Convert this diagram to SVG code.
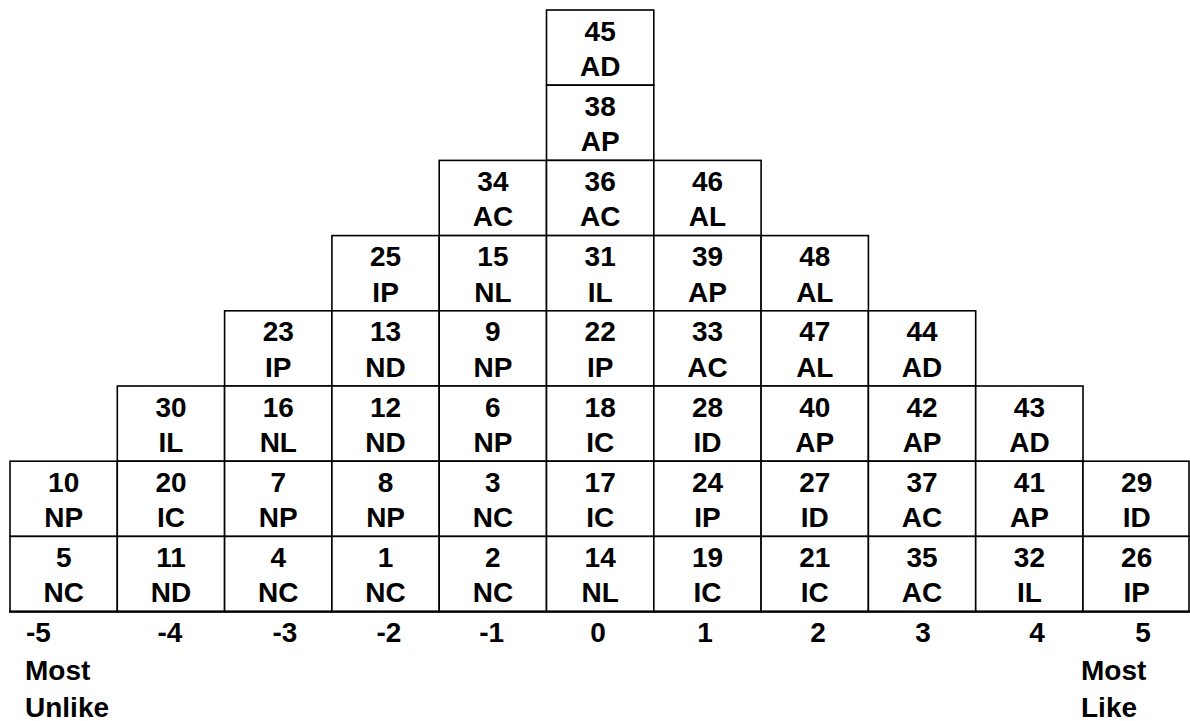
<svg xmlns="http://www.w3.org/2000/svg" width="1190" height="721" viewBox="0 0 1190 721">
<style>
rect.c{fill:#fff;stroke:#000;stroke-width:1.6}
text{font-family:"Liberation Sans",Arial,sans-serif;font-size:28px;font-weight:bold;fill:#000}
.m{text-anchor:middle}
</style>
<rect width="1190" height="721" fill="#fff"/>
<g id="cells">
<g id="c45"><rect class="c" x="546.5" y="10" width="107.3" height="75.2"/><text class="m" x="600.2" y="40.5">45</text><text class="m" x="600.2" y="76">AD</text></g>
<g id="c38"><rect class="c" x="546.5" y="85.2" width="107.3" height="75.2"/><text class="m" x="600.2" y="115.7">38</text><text class="m" x="600.2" y="151.2">AP</text></g>
<g id="c34"><rect class="c" x="439.2" y="160.4" width="107.3" height="75.2"/><text class="m" x="492.9" y="190.9">34</text><text class="m" x="492.9" y="226.4">AC</text></g>
<g id="c36"><rect class="c" x="546.5" y="160.4" width="107.3" height="75.2"/><text class="m" x="600.2" y="190.9">36</text><text class="m" x="600.2" y="226.4">AC</text></g>
<g id="c46"><rect class="c" x="653.8" y="160.4" width="107.3" height="75.2"/><text class="m" x="707.5" y="190.9">46</text><text class="m" x="707.5" y="226.4">AL</text></g>
<g id="c25"><rect class="c" x="331.9" y="235.6" width="107.3" height="75.2"/><text class="m" x="385.6" y="266.1">25</text><text class="m" x="385.6" y="301.6">IP</text></g>
<g id="c15"><rect class="c" x="439.2" y="235.6" width="107.3" height="75.2"/><text class="m" x="492.9" y="266.1">15</text><text class="m" x="492.9" y="301.6">NL</text></g>
<g id="c31"><rect class="c" x="546.5" y="235.6" width="107.3" height="75.2"/><text class="m" x="600.2" y="266.1">31</text><text class="m" x="600.2" y="301.6">IL</text></g>
<g id="c39"><rect class="c" x="653.8" y="235.6" width="107.3" height="75.2"/><text class="m" x="707.5" y="266.1">39</text><text class="m" x="707.5" y="301.6">AP</text></g>
<g id="c48"><rect class="c" x="761.1" y="235.6" width="107.3" height="75.2"/><text class="m" x="814.8" y="266.1">48</text><text class="m" x="814.8" y="301.6">AL</text></g>
<g id="c23"><rect class="c" x="224.6" y="310.8" width="107.3" height="75.2"/><text class="m" x="278.3" y="341.3">23</text><text class="m" x="278.3" y="376.8">IP</text></g>
<g id="c13"><rect class="c" x="331.9" y="310.8" width="107.3" height="75.2"/><text class="m" x="385.6" y="341.3">13</text><text class="m" x="385.6" y="376.8">ND</text></g>
<g id="c9"><rect class="c" x="439.2" y="310.8" width="107.3" height="75.2"/><text class="m" x="492.9" y="341.3">9</text><text class="m" x="492.9" y="376.8">NP</text></g>
<g id="c22"><rect class="c" x="546.5" y="310.8" width="107.3" height="75.2"/><text class="m" x="600.2" y="341.3">22</text><text class="m" x="600.2" y="376.8">IP</text></g>
<g id="c33"><rect class="c" x="653.8" y="310.8" width="107.3" height="75.2"/><text class="m" x="707.5" y="341.3">33</text><text class="m" x="707.5" y="376.8">AC</text></g>
<g id="c47"><rect class="c" x="761.1" y="310.8" width="107.3" height="75.2"/><text class="m" x="814.8" y="341.3">47</text><text class="m" x="814.8" y="376.8">AL</text></g>
<g id="c44"><rect class="c" x="868.4" y="310.8" width="107.3" height="75.2"/><text class="m" x="922.1" y="341.3">44</text><text class="m" x="922.1" y="376.8">AD</text></g>
<g id="c30"><rect class="c" x="117.3" y="386" width="107.3" height="75.2"/><text class="m" x="171" y="416.5">30</text><text class="m" x="171" y="452">IL</text></g>
<g id="c16"><rect class="c" x="224.6" y="386" width="107.3" height="75.2"/><text class="m" x="278.3" y="416.5">16</text><text class="m" x="278.3" y="452">NL</text></g>
<g id="c12"><rect class="c" x="331.9" y="386" width="107.3" height="75.2"/><text class="m" x="385.6" y="416.5">12</text><text class="m" x="385.6" y="452">ND</text></g>
<g id="c6"><rect class="c" x="439.2" y="386" width="107.3" height="75.2"/><text class="m" x="492.9" y="416.5">6</text><text class="m" x="492.9" y="452">NP</text></g>
<g id="c18"><rect class="c" x="546.5" y="386" width="107.3" height="75.2"/><text class="m" x="600.2" y="416.5">18</text><text class="m" x="600.2" y="452">IC</text></g>
<g id="c28"><rect class="c" x="653.8" y="386" width="107.3" height="75.2"/><text class="m" x="707.5" y="416.5">28</text><text class="m" x="707.5" y="452">ID</text></g>
<g id="c40"><rect class="c" x="761.1" y="386" width="107.3" height="75.2"/><text class="m" x="814.8" y="416.5">40</text><text class="m" x="814.8" y="452">AP</text></g>
<g id="c42"><rect class="c" x="868.4" y="386" width="107.3" height="75.2"/><text class="m" x="922.1" y="416.5">42</text><text class="m" x="922.1" y="452">AP</text></g>
<g id="c43"><rect class="c" x="975.7" y="386" width="107.3" height="75.2"/><text class="m" x="1029.4" y="416.5">43</text><text class="m" x="1029.4" y="452">AD</text></g>
<g id="c10"><rect class="c" x="10" y="461.2" width="107.3" height="75.2"/><text class="m" x="63.7" y="491.7">10</text><text class="m" x="63.7" y="527.2">NP</text></g>
<g id="c20"><rect class="c" x="117.3" y="461.2" width="107.3" height="75.2"/><text class="m" x="171" y="491.7">20</text><text class="m" x="171" y="527.2">IC</text></g>
<g id="c7"><rect class="c" x="224.6" y="461.2" width="107.3" height="75.2"/><text class="m" x="278.3" y="491.7">7</text><text class="m" x="278.3" y="527.2">NP</text></g>
<g id="c8"><rect class="c" x="331.9" y="461.2" width="107.3" height="75.2"/><text class="m" x="385.6" y="491.7">8</text><text class="m" x="385.6" y="527.2">NP</text></g>
<g id="c3"><rect class="c" x="439.2" y="461.2" width="107.3" height="75.2"/><text class="m" x="492.9" y="491.7">3</text><text class="m" x="492.9" y="527.2">NC</text></g>
<g id="c17"><rect class="c" x="546.5" y="461.2" width="107.3" height="75.2"/><text class="m" x="600.2" y="491.7">17</text><text class="m" x="600.2" y="527.2">IC</text></g>
<g id="c24"><rect class="c" x="653.8" y="461.2" width="107.3" height="75.2"/><text class="m" x="707.5" y="491.7">24</text><text class="m" x="707.5" y="527.2">IP</text></g>
<g id="c27"><rect class="c" x="761.1" y="461.2" width="107.3" height="75.2"/><text class="m" x="814.8" y="491.7">27</text><text class="m" x="814.8" y="527.2">ID</text></g>
<g id="c37"><rect class="c" x="868.4" y="461.2" width="107.3" height="75.2"/><text class="m" x="922.1" y="491.7">37</text><text class="m" x="922.1" y="527.2">AC</text></g>
<g id="c41"><rect class="c" x="975.7" y="461.2" width="107.3" height="75.2"/><text class="m" x="1029.4" y="491.7">41</text><text class="m" x="1029.4" y="527.2">AP</text></g>
<g id="c29"><rect class="c" x="1083" y="461.2" width="106" height="75.2"/><text class="m" x="1136.7" y="491.7">29</text><text class="m" x="1136.7" y="527.2">ID</text></g>
<g id="c5"><rect class="c" x="10" y="536.4" width="107.3" height="75.2"/><text class="m" x="63.7" y="566.9">5</text><text class="m" x="63.7" y="602.4">NC</text></g>
<g id="c11"><rect class="c" x="117.3" y="536.4" width="107.3" height="75.2"/><text class="m" x="171" y="566.9">11</text><text class="m" x="171" y="602.4">ND</text></g>
<g id="c4"><rect class="c" x="224.6" y="536.4" width="107.3" height="75.2"/><text class="m" x="278.3" y="566.9">4</text><text class="m" x="278.3" y="602.4">NC</text></g>
<g id="c1"><rect class="c" x="331.9" y="536.4" width="107.3" height="75.2"/><text class="m" x="385.6" y="566.9">1</text><text class="m" x="385.6" y="602.4">NC</text></g>
<g id="c2"><rect class="c" x="439.2" y="536.4" width="107.3" height="75.2"/><text class="m" x="492.9" y="566.9">2</text><text class="m" x="492.9" y="602.4">NC</text></g>
<g id="c14"><rect class="c" x="546.5" y="536.4" width="107.3" height="75.2"/><text class="m" x="600.2" y="566.9">14</text><text class="m" x="600.2" y="602.4">NL</text></g>
<g id="c19"><rect class="c" x="653.8" y="536.4" width="107.3" height="75.2"/><text class="m" x="707.5" y="566.9">19</text><text class="m" x="707.5" y="602.4">IC</text></g>
<g id="c21"><rect class="c" x="761.1" y="536.4" width="107.3" height="75.2"/><text class="m" x="814.8" y="566.9">21</text><text class="m" x="814.8" y="602.4">IC</text></g>
<g id="c35"><rect class="c" x="868.4" y="536.4" width="107.3" height="75.2"/><text class="m" x="922.1" y="566.9">35</text><text class="m" x="922.1" y="602.4">AC</text></g>
<g id="c32"><rect class="c" x="975.7" y="536.4" width="107.3" height="75.2"/><text class="m" x="1029.4" y="566.9">32</text><text class="m" x="1029.4" y="602.4">IL</text></g>
<g id="c26"><rect class="c" x="1083" y="536.4" width="106" height="75.2"/><text class="m" x="1136.7" y="566.9">26</text><text class="m" x="1136.7" y="602.4">IP</text></g>
</g>
<line x1="9" y1="611.6" x2="1190" y2="611.6" stroke="#000" stroke-width="2.4"/>
<g id="axis">
<text class="m" x="38.5" y="642">-5</text>
<text class="m" x="170" y="642">-4</text>
<text class="m" x="285" y="642">-3</text>
<text class="m" x="389" y="642">-2</text>
<text class="m" x="491.7" y="642">-1</text>
<text class="m" x="598" y="642">0</text>
<text class="m" x="705" y="642">1</text>
<text class="m" x="818" y="642">2</text>
<text class="m" x="923" y="642">3</text>
<text class="m" x="1037" y="642">4</text>
<text class="m" x="1143" y="642">5</text>
<text x="25" y="680">Most</text>
<text x="25" y="717">Unlike</text>
<text x="1081" y="680">Most</text>
<text x="1081" y="717">Like</text>
</g>
</svg>
